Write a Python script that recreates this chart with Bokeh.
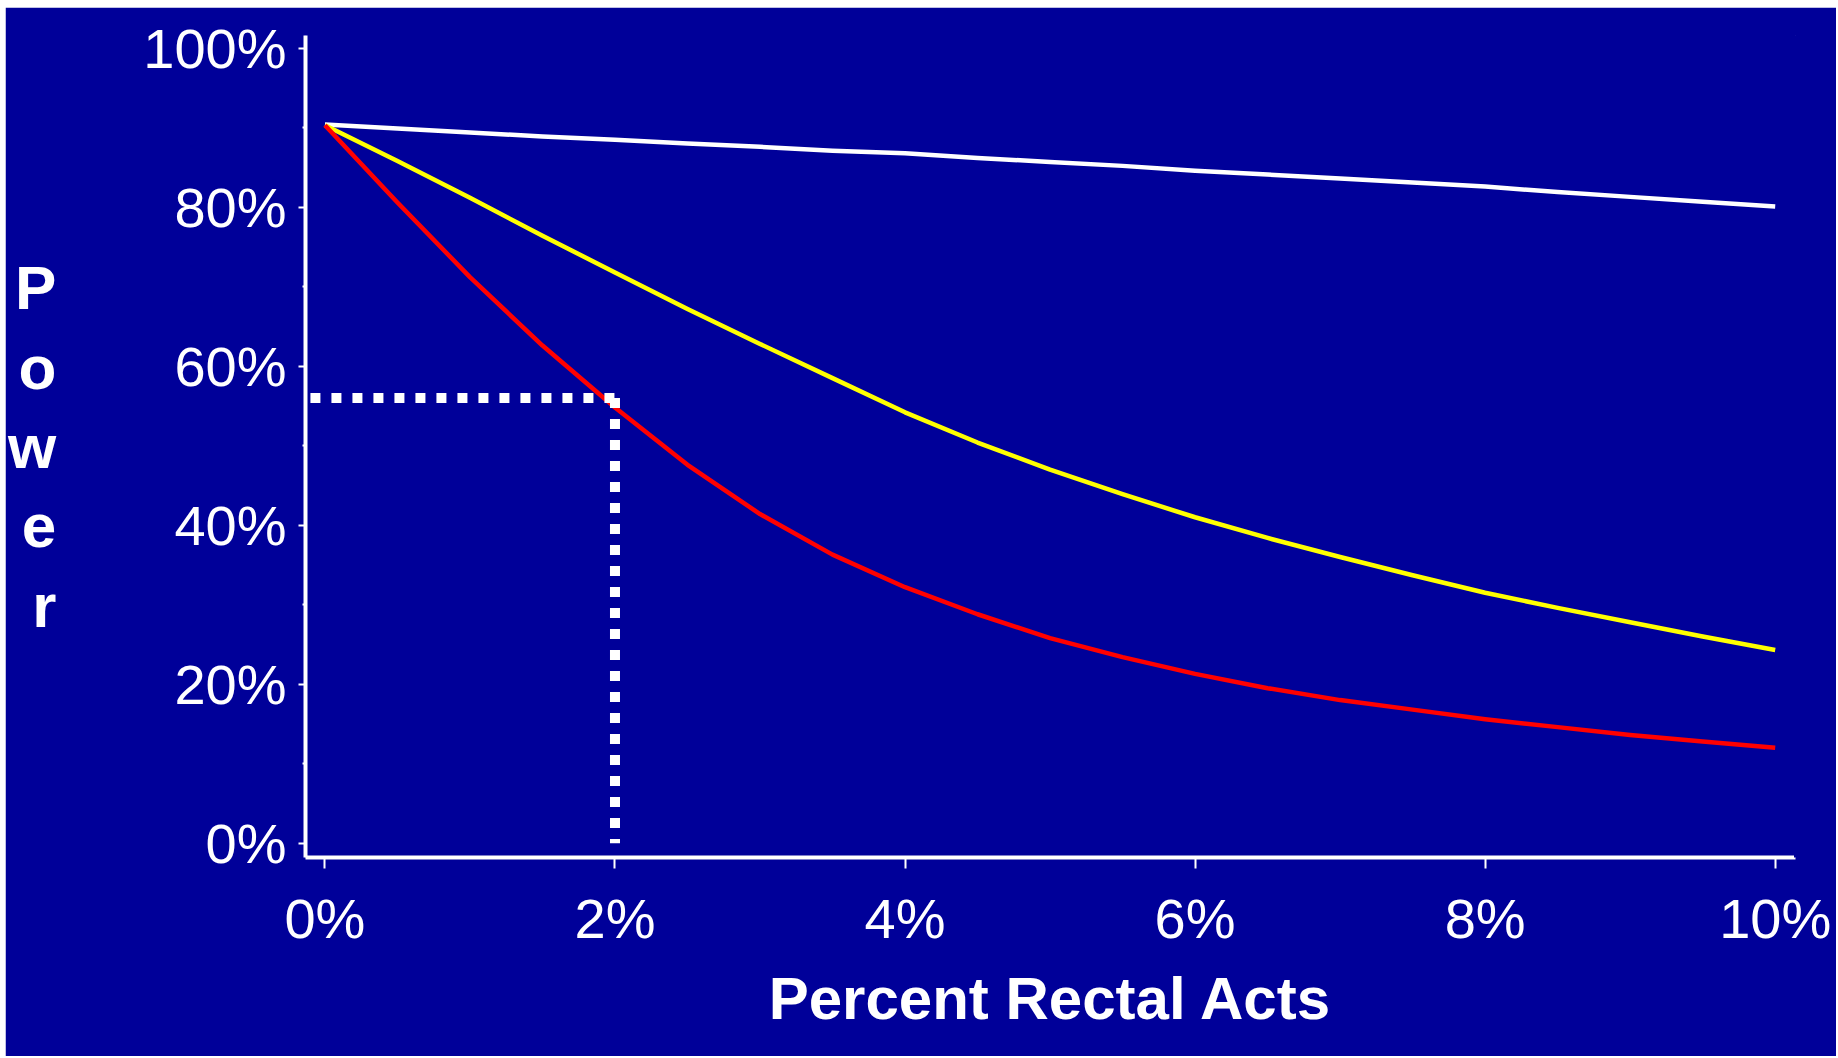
from bokeh.plotting import figure
from bokeh.models import Range1d, FixedTicker, LinearAxis, Spacer
from bokeh.layouts import column, row
from bokeh.embed import file_html
from bokeh.resources import INLINE

# ---- data ----
pct_rectal = [0, 0.5, 1, 1.5, 2, 2.5, 3, 3.5, 4, 4.5, 5, 5.5, 6, 6.5, 7, 7.5, 8, 8.5, 9, 9.5, 10]
power_white = [90.4, 89.9, 89.4, 88.9, 88.5, 88.0, 87.6, 87.1, 86.8, 86.2, 85.7, 85.2, 84.6, 84.1, 83.6, 83.1, 82.6, 81.9, 81.3, 80.7, 80.1]
power_yellow = [90.3, 85.8, 81.2, 76.4, 71.8, 67.2, 62.8, 58.5, 54.2, 50.4, 47.0, 43.9, 41.0, 38.4, 36.0, 33.7, 31.5, 29.6, 27.8, 26.0, 24.3]
power_red = [90.3, 80.6, 71.2, 62.6, 54.8, 47.6, 41.4, 36.3, 32.2, 28.8, 25.8, 23.4, 21.3, 19.5, 18.0, 16.8, 15.6, 14.6, 13.6, 12.8, 12.0]
ref_point_x = [2.0]
ref_point_power = [56.0]

x_ticks = [0, 2, 4, 6, 8, 10]
x_tick_labels = ["0%", "2%", "4%", "6%", "8%", "10%"]
y_ticks = [0, 20, 40, 60, 80, 100]
y_minor_ticks = [10, 30, 50, 70, 90]
y_tick_labels = ["0%", "20%", "40%", "60%", "80%", "100%"]
y_title = "Power"
x_title = "Percent Rectal Acts"

BG = "#000099"
FONT = "Liberation Sans"

p = figure(width=1831, height=1049, output_backend="svg", toolbar_location=None,
           x_range=Range1d(-0.134, 10.14), y_range=Range1d(-1.8, 101.6),
           min_border_left=298, min_border_right=41, min_border_top=28, min_border_bottom=199)
p.background_fill_color = BG
p.border_fill_color = BG
p.outline_line_color = None
p.xgrid.visible = False
p.ygrid.visible = False

# axes
p.xaxis.ticker = FixedTicker(ticks=x_ticks, minor_ticks=[])
p.yaxis.ticker = FixedTicker(ticks=y_ticks, minor_ticks=y_minor_ticks)
p.xaxis.major_label_overrides = {t: l for t, l in zip(x_ticks, x_tick_labels)}
p.yaxis.major_label_overrides = {t: l for t, l in zip(y_ticks, y_tick_labels)}
for ax in (p.xaxis, p.yaxis):
    ax.axis_line_color = "white"
    ax.axis_line_width = 4
    ax.major_tick_line_color = "white"
    ax.major_tick_line_width = 2
    ax.minor_tick_line_color = "white"
    ax.minor_tick_line_width = 2
    ax.major_tick_in = 0
    ax.minor_tick_in = 0
    ax.major_label_text_color = "white"
    ax.major_label_text_font = FONT
    ax.major_label_text_font_size = "56px"
p.xaxis.major_tick_out = 11
p.yaxis.major_tick_out = 7
p.yaxis.minor_tick_out = 3
p.xaxis.major_label_standoff = 18
p.yaxis.major_label_standoff = 12

p.xaxis.axis_label = x_title
p.xaxis.axis_label_text_color = "white"
p.xaxis.axis_label_text_font = FONT
p.xaxis.axis_label_text_font_style = "bold"
p.xaxis.axis_label_text_font_size = "60px"
p.xaxis.axis_label_text_line_height = 0.7
p.xaxis.axis_label_standoff = 12

# stacked y title ("P o w e r", one letter per line)
p.yaxis.axis_label = "\n".join(y_title)
p.yaxis.axis_label_text_color = "white"
p.yaxis.axis_label_text_font = FONT
p.yaxis.axis_label_text_font_style = "bold"
p.yaxis.axis_label_text_font_size = "62px"
p.yaxis.axis_label_text_line_height = 1.15
p.yaxis.axis_label_text_align = "center"
p.yaxis.axis_label_standoff = 84
p.yaxis.axis_label_orientation = "horizontal"

# plain edge axes in the background colour (hide frame seams on top/right)
for side in ("right", "above"):
    edge = LinearAxis(ticker=FixedTicker(ticks=[]), axis_line_color=BG, axis_line_width=3,
                      major_tick_line_color=None, minor_tick_line_color=None)
    p.add_layout(edge, side)

# curves
p.line(pct_rectal, power_white, line_color="white", line_width=4.5, line_join="round")
p.line(pct_rectal, power_yellow, line_color="#FFFF00", line_width=4.5, line_join="round")
p.line(pct_rectal, power_red, line_color="#FF0000", line_width=4.5, line_join="round")

# dotted reference lines
p.line([-0.1, ref_point_x[0]], [ref_point_power[0], ref_point_power[0]],
       line_color="white", line_width=10, line_dash="10 11", line_cap="butt")
p.line([ref_point_x[0], ref_point_x[0]], [ref_point_power[0], 0],
       line_color="white", line_width=10, line_dash="10 11", line_cap="butt")

# white page strip at top and left, as in the reference
layout = column(Spacer(height=7), row(Spacer(width=5), p))

open("out.html", "w").write(file_html(layout, INLINE))
